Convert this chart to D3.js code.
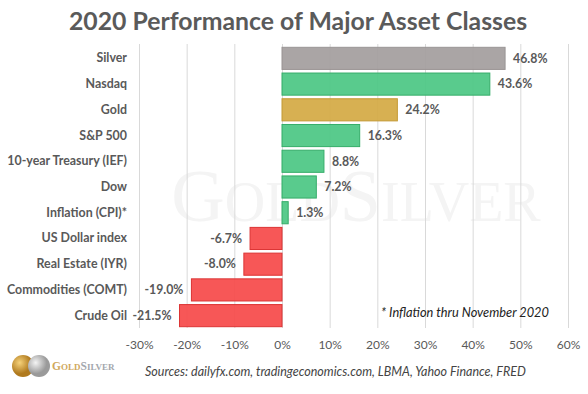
<!DOCTYPE html>
<html><head><meta charset="utf-8">
<script src="https://cdn.jsdelivr.net/npm/d3@7/dist/d3.min.js"></script>
<style>body{margin:0;background:#fff}svg{display:block}</style>
</head><body>
<svg id="c" width="588" height="394"></svg>
<script>
const categories = ["Silver","Nasdaq","Gold","S&P 500","10-year Treasury (IEF)","Dow","Inflation (CPI)*","US Dollar index","Real Estate (IYR)","Commodities (COMT)","Crude Oil"];
const values = [46.8,43.6,24.2,16.3,8.8,7.2,1.3,-6.7,-8.0,-19.0,-21.5];
const barColors = ["#a49e9e","#4cc784","#d4aa45","#4cc784","#4cc784","#4cc784","#4cc784","#f64a4a","#f64a4a","#f64a4a","#f64a4a"];
const barStrokes = ["#9a9494","#35ad69","#c49a35","#35ad69","#35ad69","#35ad69","#35ad69","#dc3434","#dc3434","#dc3434","#dc3434"];
const ticks = [-30,-20,-10,0,10,20,30,40,50,60];
const title = "2020 Performance of Major Asset Classes";
const footnote = "* Inflation thru November 2020";
const sources = "Sources: dailyfx.com, tradingeconomics.com, LBMA, Yahoo Finance, FRED";

const svg = d3.select("#c");
const F = "Lato, 'Open Sans', sans-serif";
const x = d3.scaleLinear().domain([-30,60]).range([139,568]);
const y = d3.scaleBand().domain(categories).range([45.5,328.5]).paddingInner(0.14).paddingOuter(0.07);

// watermark
const wm = svg.append("text").attr("x",356).attr("y",221).attr("text-anchor","middle")
  .attr("font-family","'Liberation Serif', 'DejaVu Serif', serif").attr("fill","#f4f4f4");
wm.append("tspan").attr("font-size",74).text("G");
wm.append("tspan").attr("font-size",56).text("OLD");
wm.append("tspan").attr("font-size",74).text("S");
wm.append("tspan").attr("font-size",56).text("ILVER");

// title
svg.append("text").attr("x",298).attr("y",30).attr("text-anchor","middle")
  .attr("font-family",F).attr("font-weight","bold").attr("font-size",24.8).attr("fill","#5a5a5a").text(title);

// gridlines
svg.append("g").selectAll("line").data(ticks).join("line")
  .attr("x1",d=>x(d)+0.5).attr("x2",d=>x(d)+0.5).attr("y1",44).attr("y2",328)
  .attr("stroke","#d9d9d9").attr("stroke-width",1);

// bars
svg.append("g").selectAll("rect").data(values).join("rect")
  .attr("x",d=>x(Math.min(0,d))).attr("width",d=>Math.abs(x(d)-x(0)))
  .attr("y",(d,i)=>y(categories[i])).attr("height",y.bandwidth())
  .attr("fill",(d,i)=>barColors[i]).attr("fill-opacity",0.93)
  .attr("stroke",(d,i)=>barStrokes[i]).attr("stroke-width",1);

// value labels
svg.append("g").selectAll("text").data(values).join("text")
  .attr("x",d=>d>=0? x(d)+8 : x(d)-8)
  .attr("y",(d,i)=>y(categories[i])+y.bandwidth()/2)
  .attr("dy","0.35em").attr("text-anchor",d=>d>=0?"start":"end")
  .attr("font-family",F).attr("font-weight","bold").attr("font-size",12.3).attr("fill","#595959")
  .text(d=>d.toFixed(1)+"%");

// category labels
const yAxis = svg.append("g").attr("transform","translate(127,0)")
  .call(d3.axisLeft(y).tickSize(0).tickPadding(0));
yAxis.select(".domain").remove();
yAxis.selectAll("text").attr("font-family",F).attr("font-weight","bold").attr("font-size",12.4).attr("fill","#595959");

// x axis
const xAxis = svg.append("g").attr("transform","translate(0,336)")
  .call(d3.axisBottom(x).tickValues(ticks).tickSize(0).tickPadding(4).tickFormat(d=>d+"%"));
xAxis.select(".domain").remove();
xAxis.selectAll("text").attr("font-family",F).attr("font-size",12).attr("fill","#595959");

// footnote
svg.append("text").attr("x",381).attr("y",317).attr("font-family",F).attr("font-style","italic")
  .attr("font-size",12.8).attr("fill","#222").text(footnote);

// sources
svg.append("text").attr("x",145).attr("y",376).attr("font-family",F).attr("font-style","italic")
  .attr("font-size",12.5).attr("fill","#444").text(sources);

// logo
const defs = svg.append("defs");
const g1 = defs.append("radialGradient").attr("id","gold").attr("cx","35%").attr("cy","35%");
g1.append("stop").attr("offset","0%").attr("stop-color","#f6d27a");
g1.append("stop").attr("offset","100%").attr("stop-color","#b07a1e");
const g2 = defs.append("radialGradient").attr("id","silv").attr("cx","35%").attr("cy","35%");
g2.append("stop").attr("offset","0%").attr("stop-color","#f4f4f4");
g2.append("stop").attr("offset","100%").attr("stop-color","#9a9a9a");
svg.append("circle").attr("cx",23).attr("cy",366).attr("r",11).attr("fill","url(#gold)");
svg.append("circle").attr("cx",39).attr("cy",366).attr("r",11).attr("fill","url(#silv)");
const lt = svg.append("text").attr("x",52).attr("y",370).attr("font-family","'Liberation Serif', serif").attr("font-weight","bold");
lt.append("tspan").attr("fill","#d0a85c").attr("font-size",11.5).text("G");
lt.append("tspan").attr("fill","#d0a85c").attr("font-size",9).text("OLD");
lt.append("tspan").attr("fill","#a3a7ad").attr("font-size",11.5).text("S");
lt.append("tspan").attr("fill","#a3a7ad").attr("font-size",9).text("ILVER");
</script>
</body></html>
